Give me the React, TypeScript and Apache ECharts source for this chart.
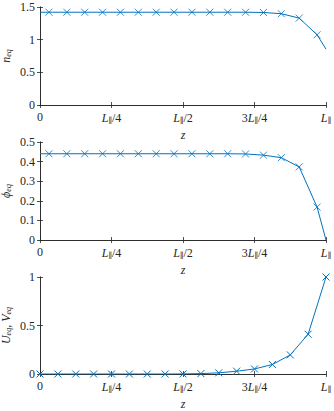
import React, { useEffect, useRef } from 'react';
import * as echarts from 'echarts';

const zCenters = [0.03125, 0.09375, 0.15625, 0.21875, 0.28125, 0.34375, 0.40625, 0.46875, 0.53125, 0.59375, 0.65625, 0.71875, 0.78125, 0.84375, 0.90625, 0.96875];
const zNodes = [0, 0.0625, 0.125, 0.1875, 0.25, 0.3125, 0.375, 0.4375, 0.5, 0.5625, 0.625, 0.6875, 0.75, 0.8125, 0.875, 0.9375, 1];
const zEnds = [0, 1];
const nEqCenters = [1.42, 1.42, 1.42, 1.42, 1.42, 1.42, 1.42, 1.42, 1.42, 1.42, 1.42, 1.42, 1.416, 1.397, 1.33, 1.075];
const nEqEnds = [1.42, 0.855];
const phiEqCenters = [0.44, 0.44, 0.44, 0.44, 0.44, 0.44, 0.44, 0.44, 0.44, 0.44, 0.44, 0.439, 0.433, 0.42, 0.373, 0.168];
const phiEqEnds = [0.44, 0];
const uvEqNodes = [0, 0, 0, 0, 0, 0, 0, 0, 0.001, 0.004, 0.012, 0.029, 0.052, 0.098, 0.197, 0.41, 1];
const xTickValues = [0, 0.25, 0.5, 0.75, 1];
const xTickLabels = ['0', '{i|L}{s|∥}/4', '{i|L}{s|∥}/2', '3{i|L}{s|∥}/4', '{i|L}{s|∥}'];
const yNames = ['{i|n}{s|eq}', '{i|ϕ}{s|eq}', '{i|U}{s|eq}, {i|V}{s|eq}'];
const yMax = [1.5, 0.5, 1];
const yInterval = [0.5, 0.1, 0.5];

const BLUE = '#0072BD';
const AX = '#262626';
const FONT = '"Liberation Serif", "DejaVu Serif", serif';
const FS = 12;

const rich = {
  i: { fontStyle: 'italic', fontFamily: FONT, fontSize: FS, color: AX },
  s: { fontStyle: 'italic', fontFamily: FONT, fontSize: 8, color: AX, verticalAlign: 'bottom', padding: [5, 0, 0, 0] },
};
const nameRich = {
  i: { fontStyle: 'italic', fontFamily: FONT, fontSize: FS, color: AX },
  s: { fontStyle: 'italic', fontFamily: FONT, fontSize: 8, color: AX, verticalAlign: 'bottom', padding: [3, 0, 0, 0] },
};

const xMarker = 'path://M0,0L10,10M0,10L10,0';

export default function App() {
  const ref = useRef<HTMLDivElement>(null);
  useEffect(() => {
    const chart = echarts.init(ref.current!, null, { renderer: 'svg' });
    const grids = [
      { left: 40, right: 8, top: 7, height: 98, containLabel: false, outerBoundsMode: 'none' },
      { left: 40, right: 8, top: 142, height: 98, containLabel: false, outerBoundsMode: 'none' },
      { left: 40, right: 8, top: 277, height: 97, containLabel: false, outerBoundsMode: 'none' },
    ];
    const xAxes: any[] = [];
    const yAxes: any[] = [];
    grids.forEach((_, g) => {
      xAxes.push({
        type: 'value', gridIndex: g, min: 0, max: 1, interval: 0.25, position: 'bottom',
        name: 'z', nameLocation: 'middle', nameGap: 24, nameMoveOverlap: false,
        nameTextStyle: { fontFamily: FONT, fontStyle: 'italic', fontSize: FS, color: AX },
        axisLine: { show: true, lineStyle: { color: AX, width: 0.8 } },
        axisTick: { show: true, inside: true, length: 3, lineStyle: { color: AX, width: 0.8 } },
        splitLine: { show: false },
        axisLabel: {
          margin: 6, fontFamily: FONT, fontSize: FS, color: AX, rich,
          formatter: (v: number) => {
            const k = xTickValues.findIndex((t) => Math.abs(t - v) < 1e-9);
            return k >= 0 ? xTickLabels[k] : '';
          },
        },
      });
      xAxes.push({
        type: 'value', gridIndex: g, min: 0, max: 1, interval: 0.25, position: 'top',
        axisLine: { show: true, lineStyle: { color: AX, width: 0.8 } },
        axisTick: { show: true, inside: true, length: 3, lineStyle: { color: AX, width: 0.8 } },
        axisLabel: { show: false }, splitLine: { show: false },
      });
      yAxes.push({
        type: 'value', gridIndex: g, min: 0, max: yMax[g], interval: yInterval[g], position: 'left',
        name: yNames[g], nameLocation: 'middle', nameGap: 28, nameRotate: 90, nameMoveOverlap: false,
        nameTextStyle: { fontFamily: FONT, fontSize: FS, color: AX, rich: nameRich },
        axisLine: { show: true, lineStyle: { color: AX, width: 0.8 } },
        axisTick: { show: true, inside: true, length: 3, lineStyle: { color: AX, width: 0.8 } },
        splitLine: { show: false },
        axisLabel: { margin: 5, fontFamily: FONT, fontSize: FS, color: AX },
      });
      yAxes.push({
        type: 'value', gridIndex: g, min: 0, max: yMax[g], interval: yInterval[g], position: 'right',
        axisLine: { show: true, lineStyle: { color: AX, width: 0.8 } },
        axisTick: { show: true, inside: true, length: 3, lineStyle: { color: AX, width: 0.8 } },
        axisLabel: { show: false }, splitLine: { show: false },
      });
    });

    const lineStyle = { color: BLUE, width: 1 };
    const markerStyle = { color: 'transparent', borderColor: BLUE, borderWidth: 1 };
    const withEnds = (c: number[], e: number[]) =>
      [[zEnds[0], e[0]], ...zCenters.map((z, i) => [z, c[i]]), [zEnds[1], e[1]]];

    chart.setOption({
      animation: false,
      textStyle: { fontFamily: FONT },
      grid: grids,
      xAxis: xAxes,
      yAxis: yAxes,
      series: [
        { type: 'line', xAxisIndex: 0, yAxisIndex: 0, data: withEnds(nEqCenters, nEqEnds), symbol: 'none', lineStyle },
        { type: 'scatter', xAxisIndex: 0, yAxisIndex: 0, data: zCenters.map((z, i) => [z, nEqCenters[i]]), symbol: xMarker, symbolSize: 7, itemStyle: markerStyle },
        { type: 'line', xAxisIndex: 2, yAxisIndex: 2, data: withEnds(phiEqCenters, phiEqEnds), symbol: 'none', lineStyle },
        { type: 'scatter', xAxisIndex: 2, yAxisIndex: 2, data: zCenters.map((z, i) => [z, phiEqCenters[i]]), symbol: xMarker, symbolSize: 7, itemStyle: markerStyle },
        { type: 'line', xAxisIndex: 4, yAxisIndex: 4, data: zNodes.map((z, i) => [z, uvEqNodes[i]]), symbol: xMarker, symbolSize: 7, showAllSymbol: true, itemStyle: markerStyle, lineStyle },
      ],
    });
    return () => chart.dispose();
  }, []);
  return <div ref={ref} style={{ width: 334, height: 411, position: 'absolute', left: 0, top: 0 }} />;
}
